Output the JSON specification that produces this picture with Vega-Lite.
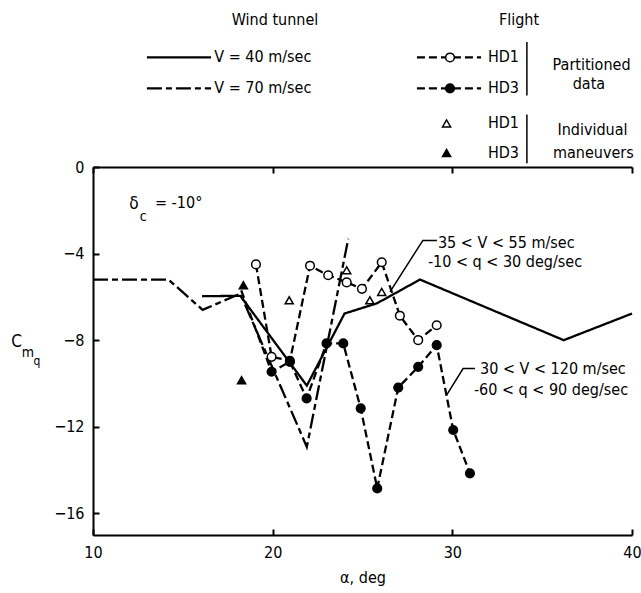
{
  "$schema": "https://vega.github.io/schema/vega-lite/v6.json",
  "width": 539,
  "height": 368,
  "autosize": "none",
  "padding": {"left": 93, "top": 167, "right": 9, "bottom": 58},
  "background": "white",
  "config": {
    "view": {"stroke": null},
    "font": "Liberation Sans Narrow, DejaVu Sans Condensed, sans-serif",
    "text": {"fontSize": 16, "color": "black"}
  },
  "datasets": {
    "lines": [
      {"g": "w40", "s": "V = 40", "a": 16.07, "c": -5.97},
      {"g": "w40", "s": "V = 40", "a": 18.2, "c": -5.95},
      {"g": "w40", "s": "V = 40", "a": 21.9, "c": -10.1},
      {"g": "w40", "s": "V = 40", "a": 24.0, "c": -6.77},
      {"g": "w40", "s": "V = 40", "a": 25.8, "c": -6.3},
      {"g": "w40", "s": "V = 40", "a": 28.2, "c": -5.2},
      {"g": "w40", "s": "V = 40", "a": 36.2, "c": -8.0},
      {"g": "w40", "s": "V = 40", "a": 40.0, "c": -6.77},
      {"g": "w70", "s": "V = 70", "a": 10.0, "c": -5.2},
      {"g": "w70", "s": "V = 70", "a": 14.2, "c": -5.2},
      {"g": "w70", "s": "V = 70", "a": 16.1, "c": -6.6},
      {"g": "w70", "s": "V = 70", "a": 18.2, "c": -5.85},
      {"g": "w70", "s": "V = 70", "a": 21.9, "c": -12.93},
      {"g": "w70", "s": "V = 70", "a": 24.21, "c": -3.31},
      {"g": "h1", "s": "HD1", "a": 19.07, "c": -4.5},
      {"g": "h1", "s": "HD1", "a": 19.94, "c": -8.77},
      {"g": "h1", "s": "HD1", "a": 20.96, "c": -8.95},
      {"g": "h1", "s": "HD1", "a": 22.08, "c": -4.56},
      {"g": "h1", "s": "HD1", "a": 23.09, "c": -5.0},
      {"g": "h1", "s": "HD1", "a": 24.12, "c": -5.33},
      {"g": "h1", "s": "HD1", "a": 24.97, "c": -5.63},
      {"g": "h1", "s": "HD1", "a": 26.07, "c": -4.4},
      {"g": "h1", "s": "HD1", "a": 27.08, "c": -6.87},
      {"g": "h1", "s": "HD1", "a": 28.1, "c": -8.0},
      {"g": "h1", "s": "HD1", "a": 29.13, "c": -7.31},
      {"g": "h3", "s": "HD3", "a": 18.25, "c": -5.7},
      {"g": "h3", "s": "HD3", "a": 19.94, "c": -9.46},
      {"g": "h3", "s": "HD3", "a": 20.96, "c": -9.0},
      {"g": "h3", "s": "HD3", "a": 21.89, "c": -10.69},
      {"g": "h3", "s": "HD3", "a": 23.0, "c": -8.15},
      {"g": "h3", "s": "HD3", "a": 23.93, "c": -8.15},
      {"g": "h3", "s": "HD3", "a": 24.9, "c": -11.15},
      {"g": "h3", "s": "HD3", "a": 25.82, "c": -14.85},
      {"g": "h3", "s": "HD3", "a": 26.99, "c": -10.19},
      {"g": "h3", "s": "HD3", "a": 28.1, "c": -9.23},
      {"g": "h3", "s": "HD3", "a": 29.13, "c": -8.23},
      {"g": "h3", "s": "HD3", "a": 30.05, "c": -12.15},
      {"g": "h3", "s": "HD3", "a": 30.98, "c": -14.15},
      {"g": "L40", "s": "V = 40", "a": 13.0, "c": 5.06},
      {"g": "L40", "s": "V = 40", "a": 16.57, "c": 5.06},
      {"g": "L70", "s": "V = 70", "a": 13.0, "c": 3.63},
      {"g": "L70", "s": "V = 70", "a": 16.57, "c": 3.63},
      {"g": "Lh1", "s": "HD1", "a": 28.03, "c": 5.06},
      {"g": "Lh1", "s": "HD1", "a": 31.6, "c": 5.06},
      {"g": "Lh3", "s": "HD3", "a": 28.03, "c": 3.63},
      {"g": "Lh3", "s": "HD3", "a": 31.6, "c": 3.63}
    ],
    "points": [
      {"s": "HD1", "a": 19.07, "c": -4.5},
      {"s": "HD1", "a": 19.94, "c": -8.77},
      {"s": "HD1", "a": 20.96, "c": -8.95},
      {"s": "HD1", "a": 22.08, "c": -4.56},
      {"s": "HD1", "a": 23.09, "c": -5.0},
      {"s": "HD1", "a": 24.12, "c": -5.33},
      {"s": "HD1", "a": 24.97, "c": -5.63},
      {"s": "HD1", "a": 26.07, "c": -4.4},
      {"s": "HD1", "a": 27.08, "c": -6.87},
      {"s": "HD1", "a": 28.1, "c": -8.0},
      {"s": "HD1", "a": 29.13, "c": -7.31},
      {"s": "HD1", "a": 29.87, "c": 5.06},
      {"s": "HD3", "a": 19.94, "c": -9.46},
      {"s": "HD3", "a": 20.96, "c": -9.0},
      {"s": "HD3", "a": 21.89, "c": -10.69},
      {"s": "HD3", "a": 23.0, "c": -8.15},
      {"s": "HD3", "a": 23.93, "c": -8.15},
      {"s": "HD3", "a": 24.9, "c": -11.15},
      {"s": "HD3", "a": 25.82, "c": -14.85},
      {"s": "HD3", "a": 26.99, "c": -10.19},
      {"s": "HD3", "a": 28.1, "c": -9.23},
      {"s": "HD3", "a": 29.13, "c": -8.23},
      {"s": "HD3", "a": 30.05, "c": -12.15},
      {"s": "HD3", "a": 30.98, "c": -14.15},
      {"s": "HD3", "a": 29.87, "c": 3.63}
    ],
    "triangles": [
      {"s": "HD1", "a": 20.92, "c": -6.16},
      {"s": "HD1", "a": 24.12, "c": -4.77},
      {"s": "HD1", "a": 25.41, "c": -6.16},
      {"s": "HD1", "a": 26.07, "c": -5.77},
      {"s": "HD1", "a": 29.68, "c": 2.01},
      {"s": "HD3", "a": 18.37, "c": -5.46},
      {"s": "HD3", "a": 18.27, "c": -9.85},
      {"s": "HD3", "a": 29.68, "c": 0.65}
    ],
    "leaders": [
      {"g": "A", "a": 29.14, "c": -3.39},
      {"g": "A", "a": 28.36, "c": -3.39},
      {"g": "A", "a": 26.53, "c": -5.77},
      {"g": "B", "a": 31.26, "c": -9.31},
      {"g": "B", "a": 30.6, "c": -9.31},
      {"g": "B", "a": 29.68, "c": -10.54}
    ],
    "braces": [
      {"g": "partitioned", "a": 34.15, "c": 5.77, "c2": 3.3},
      {"g": "individual", "a": 34.15, "c": 2.42, "c2": 0.17}
    ]
  },
  "encoding": {
    "x": {"field": "a", "type": "quantitative", "scale": {"domain": [10, 40], "nice": false, "zero": false}, "axis": null},
    "y": {"field": "c", "type": "quantitative", "scale": {"domain": [-17, 0], "nice": false, "zero": false}, "axis": null}
  },
  "layer": [
    {
      "data": {"name": "lines"},
      "mark": {"type": "line", "color": "black", "strokeWidth": 2.3},
      "encoding": {
        "x": {"field": "a", "type": "quantitative", "scale": {"domain": [10, 40], "nice": false, "zero": false},
          "axis": {"orient": "bottom", "values": [10, 20, 30, 40], "tickSize": -6, "tickWidth": 2, "domainWidth": 2, "domainColor": "black", "tickColor": "black", "labelPadding": 15, "labelFontSize": 16, "labelColor": "black", "labelFlush": false, "grid": false, "title": "α, deg", "titleFontSize": 16, "titleFontWeight": "normal", "titleColor": "black", "titlePadding": 9}},
        "y": {"field": "c", "type": "quantitative", "scale": {"domain": [-17, 0], "nice": false, "zero": false},
          "axis": {"orient": "left", "values": [0, -4, -8, -12, -16], "tickSize": -6, "tickWidth": 2, "domainWidth": 2, "domainColor": "black", "tickColor": "black", "labelPadding": 15, "labelFontSize": 16, "labelColor": "black", "labelFlush": false, "grid": false, "title": null}},
        "detail": {"field": "g"},
        "strokeDash": {"field": "s", "type": "nominal", "scale": {"domain": ["V = 40", "V = 70", "HD1", "HD3"], "range": [[1, 0], [15, 4, 6, 4], [8, 4], [8, 4]]}, "legend": null}
      }
    },
    {
      "data": {"name": "leaders"},
      "mark": {"type": "line", "color": "black", "strokeWidth": 1.5},
      "encoding": {
        "x": {"field": "a", "type": "quantitative", "scale": {"domain": [10, 40], "nice": false, "zero": false},
          "axis": {"orient": "top", "values": [10, 20, 30, 40], "tickSize": -6, "tickWidth": 2, "domainWidth": 2, "domainColor": "black", "tickColor": "black", "labels": false, "grid": false, "title": null}},
        "detail": {"field": "g"},
        "order": {"value": 0}
      }
    },
    {
      "data": {"name": "braces"},
      "mark": {"type": "rule", "color": "black", "strokeWidth": 1.5},
      "encoding": {"y2": {"field": "c2"}}
    },
    {
      "data": {"name": "points"},
      "mark": {"type": "point", "shape": "circle", "filled": true, "stroke": "black", "strokeWidth": 1.5, "size": 75, "opacity": 1},
      "encoding": {"fill": {"field": "s", "type": "nominal", "scale": {"domain": ["HD1", "HD3"], "range": ["white", "black"]}, "legend": null}}
    },
    {
      "data": {"name": "triangles"},
      "mark": {"type": "point", "shape": "triangle-up", "filled": true, "stroke": "black", "strokeWidth": 1.5, "size": 65, "opacity": 1},
      "encoding": {"fill": {"field": "s", "type": "nominal", "scale": {"domain": ["HD1", "HD3"], "range": ["white", "black"]}, "legend": null}}
    },
    {
      "data": {"values": [
        {"t": "Wind tunnel", "a": 20.13, "c": 6.77},
        {"t": "Flight", "a": 33.71, "c": 6.77},
        {"t": "Partitioned", "a": 37.75, "c": 4.73},
        {"t": "data", "a": 37.6, "c": 3.85},
        {"t": "Individual", "a": 37.8, "c": 1.69},
        {"t": "maneuvers", "a": 37.85, "c": 0.65}
      ]},
      "mark": {"type": "text", "align": "center", "baseline": "middle", "fontSize": 16},
      "encoding": {"text": {"field": "t"}}
    },
    {
      "data": {"values": [
        {"t": "V = 40  m/sec", "a": 16.75, "c": 5.06},
        {"t": "V = 70  m/sec", "a": 16.75, "c": 3.63},
        {"t": "HD1", "a": 31.98, "c": 5.06},
        {"t": "HD3", "a": 31.98, "c": 3.63},
        {"t": "HD1", "a": 31.98, "c": 2.01},
        {"t": "HD3", "a": 31.98, "c": 0.65},
        {"t": "35 < V < 55  m/sec", "a": 29.2, "c": -3.5},
        {"t": "-10 < q < 30  deg/sec", "a": 28.64, "c": -4.4},
        {"t": "30 < V < 120  m/sec", "a": 31.54, "c": -9.33},
        {"t": "-60 < q < 90  deg/sec", "a": 31.2, "c": -10.3},
        {"t": "= -10°", "a": 13.45, "c": -1.68}
      ]},
      "mark": {"type": "text", "align": "left", "baseline": "middle", "fontSize": 16},
      "encoding": {"text": {"field": "t"}}
    },
    {
      "data": {"values": [
        {"t": "δ", "a": 12.28, "c": -1.73},
        {"t": "C", "a": 5.75, "c": -8.09}
      ]},
      "mark": {"type": "text", "align": "center", "baseline": "middle", "fontSize": 17},
      "encoding": {"text": {"field": "t"}}
    },
    {
      "data": {"values": [
        {"t": "c", "a": 12.8, "c": -2.3},
        {"t": "m", "a": 6.38, "c": -8.6}
      ]},
      "mark": {"type": "text", "align": "center", "baseline": "middle", "fontSize": 14},
      "encoding": {"text": {"field": "t"}}
    },
    {
      "data": {"values": [
        {"t": "q", "a": 6.88, "c": -8.95}
      ]},
      "mark": {"type": "text", "align": "center", "baseline": "middle", "fontSize": 12},
      "encoding": {"text": {"field": "t"}}
    }
  ],
  "resolve": {"axis": {"x": "independent", "y": "independent"}}
}
